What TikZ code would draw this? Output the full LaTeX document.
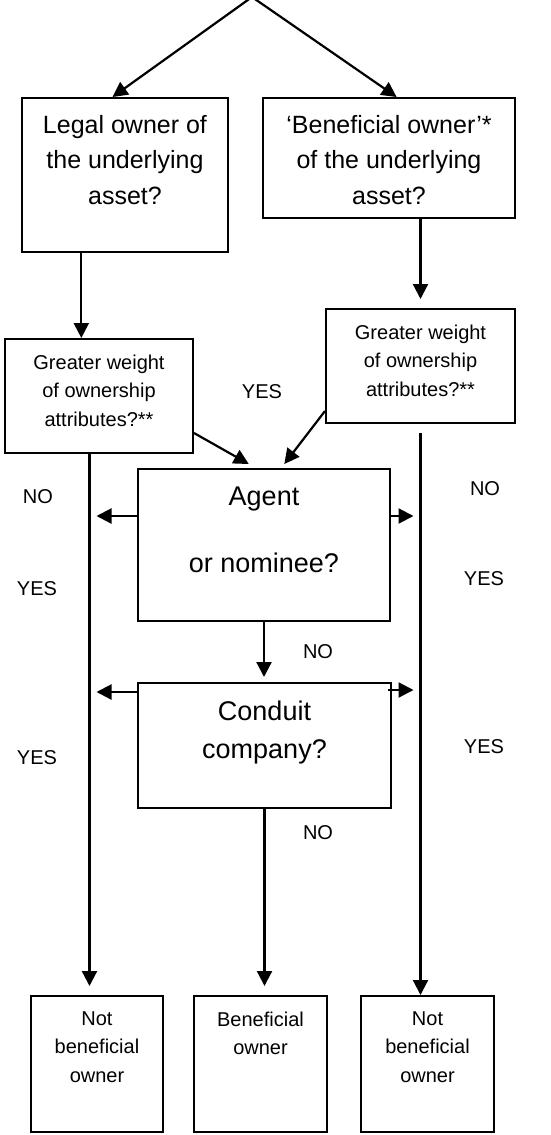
\documentclass[tikz,border=0pt]{standalone}
\usepackage{fontspec}
\setmainfont{Liberation Sans}
\usetikzlibrary{calc}
\usetikzlibrary{arrows.meta}

\begin{document}
\begin{tikzpicture}[x=1pt,y=-1pt,>={Triangle[length=15pt,width=15pt]},
	box/.style={rectangle,draw=black,line width=2pt},
	flow/.style={->,line width=2.2pt},
	bigtext/.style={anchor=north,inner sep=0pt,align=center,font=\fontsize{25}{35.5}\selectfont},
	asktext/.style={anchor=north,inner sep=0pt,align=center,font=\fontsize{27}{38}\selectfont},
	smalltext/.style={inner sep=0pt,align=center,font=\fontsize{20}{28.5}\selectfont}]
	\useasboundingbox (0,0) rectangle (551,1135);
	%start
	\coordinate (top) at (252,-3);
	%first questions
	\node at (125,175) (legal) [box, minimum width=206pt, minimum height=154pt] {};
	\node [bigtext] at ($(legal.north) + (0,18)$) (legaltext) {Legal owner of\\the underlying\\asset?};
	\node at (389,158) (benef) [box, minimum width=252pt, minimum height=120pt] {};
	\node [bigtext] at ($(benef.north) + (0,18)$) (beneftext) {‘Beneficial owner’*\\of the underlying\\asset?};
	%weight of attributes
	\node at (99,396) (weightl) [box, minimum width=188pt, minimum height=114pt] {};
	\node [smalltext, anchor=north] at ($(weightl.north) + (0,16.5)$) (weightltext) {Greater weight\\of ownership\\attributes?**};
	\node at (420.5,366) (weightr) [box, minimum width=189pt, minimum height=114pt] {};
	\node [smalltext, anchor=north] at ($(weightr.north) + (0,16.5)$) (weightrtext) {Greater weight\\of ownership\\attributes?**};
	%agent and conduit
	\node at (264,545) (agent) [box, minimum width=252pt, minimum height=152pt] {};
	\node [asktext] at ($(agent.north) + (0,18.7)$) (agenttext) {Agent\\[29pt]or nominee?};
	\node at (264.5,745.5) (conduit) [box, minimum width=253pt, minimum height=125pt] {};
	\node [asktext] at ($(conduit.north) + (0,18.4)$) (conduittext) {Conduit\\company?};
	%outcomes
	\node at (97,1064) (notl) [box, minimum width=132pt, minimum height=136pt] {};
	\node [smalltext, anchor=north] at ($(notl.north) + (0,16.5)$) (notltext) {Not\\beneficial\\owner};
	\node at (260.5,1064) (benefo) [box, minimum width=133pt, minimum height=136pt] {};
	\node [smalltext, anchor=north] at ($(benefo.north) + (0,16.5)$) (benefotext) {Beneficial\\owner};
	\node at (427.5,1064) (notr) [box, minimum width=133pt, minimum height=136pt] {};
	\node [smalltext, anchor=north] at ($(notr.north) + (0,16.5)$) (notrtext) {Not\\beneficial\\owner};

	%arrows from the top
	\draw [flow] (top) -- ($(legal.north west)!0.44!(legal.north east)$);
	\draw [flow] (top) -- ($(benef.north west)!0.53!(benef.north east)$);
	\draw [flow] ($(legal.south west)!0.29!(legal.south east)$) coordinate (legaldown) -- (legaldown |- weightl.north);
	\draw [flow] (benef.south -| weightr.north) -- ($(weightr.north)+(0,-9)$);
	\draw [flow] ($(weightl.south east)+(0,-21)$) -- ($(agent.north west)!0.44!(agent.north east)+(0,-4)$);
	\draw [flow] ($(weightr.south west)+(0,-13)$) -- ($(agent.north west)!0.58!(agent.north east)+(0,-4)$);
	%long lines
	\coordinate (leftline) at ($(weightl.south west)!0.45!(weightl.south east)$);
	\coordinate (rightline) at ($(weightr.south)+(0,9)$);
	\draw [flow] (leftline) -- ($(leftline |- notl.north)+(0,-9)$);
	\draw [flow] (rightline) -- (rightline |- notr.north);
	%side arrows
	\draw [flow] ($(agent.north west)+(0,48)$) -- ($(agent.north west -| leftline)+(7,48)$);
	\draw [flow] ($(agent.north east)+(-2,48)$) -- ($(agent.north east -| rightline)+(-7,48)$);
	\draw [flow] ($(conduit.north west)+(0,10)$) -- ($(conduit.north west -| leftline)+(7,10)$);
	\draw [flow] ($(conduit.north east)+(-4,8)$) -- ($(conduit.north east -| rightline)+(-7,8)$);
	%down the middle
	\draw [flow] (agent.south) -- ($(agent.south |- conduit.north)+(0,-5)$);
	\draw [flow] (conduit.south) -- ($(conduit.south |- benefo.north)+(0,-9)$);

	%answers
	\node [smalltext] at (262,392) (yesmid) {YES};
	\node [smalltext] at (38,497) (noleft) {NO};
	\node [smalltext] at (37,589) (yesleft) {YES};
	\node [smalltext] at (37,758) (yesleftlow) {YES};
	\node [smalltext] at (485,489) (noright) {NO};
	\node [smalltext] at (484,579) (yesright) {YES};
	\node [smalltext] at (484,747) (yesrightlow) {YES};
	\node [smalltext] at (318,652) (noagent) {NO};
	\node [smalltext] at (318,833) (noconduit) {NO};
\end{tikzpicture}
\end{document}
